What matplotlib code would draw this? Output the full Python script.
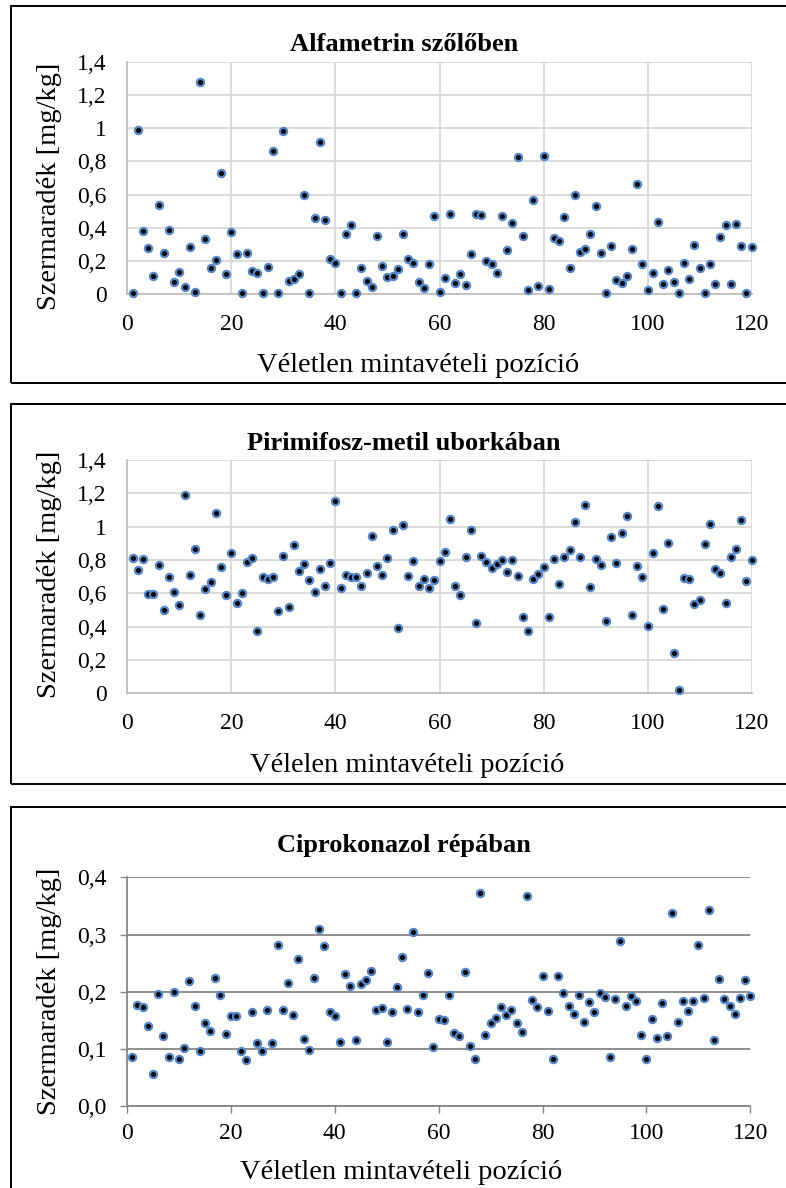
import numpy as np
import matplotlib.pyplot as plt
from matplotlib.patches import Rectangle

# ---------------------------
# ADATOK
# ---------------------------
pozicio = np.arange(1, 121)

alfametrin = [
    0.01, 0.99, 0.38, 0.28, 0.11, 0.54, 0.25, 0.39, 0.074, 0.134,
    0.042, 0.286, 0.014, 1.28, 0.334, 0.16, 0.206, 0.73, 0.122, 0.372,
    0.24, 0.01, 0.246, 0.138, 0.13, 0.01, 0.162, 0.864, 0.01, 0.98,
    0.08, 0.09, 0.124, 0.60, 0.01, 0.46, 0.914, 0.446, 0.21, 0.19,
    0.01, 0.36, 0.42, 0.01, 0.16, 0.08, 0.046, 0.35, 0.17, 0.104,
    0.11, 0.154, 0.362, 0.21, 0.188, 0.074, 0.036, 0.184, 0.472, 0.012,
    0.10, 0.486, 0.066, 0.12, 0.056, 0.242, 0.482, 0.476, 0.198, 0.184,
    0.13, 0.47, 0.266, 0.43, 0.828, 0.35, 0.028, 0.57, 0.05, 0.834,
    0.034, 0.34, 0.318, 0.466, 0.16, 0.596, 0.254, 0.272, 0.36, 0.53,
    0.246, 0.01, 0.29, 0.084, 0.066, 0.11, 0.27, 0.664, 0.18, 0.026,
    0.126, 0.438, 0.064, 0.144, 0.076, 0.01, 0.186, 0.092, 0.296, 0.158,
    0.01, 0.182, 0.062, 0.342, 0.418, 0.06, 0.426, 0.29, 0.01, 0.284,
]

pirimifosz = [
    0.814, 0.738, 0.804, 0.596, 0.598, 0.772, 0.498, 0.70, 0.606, 0.528,
    1.19, 0.712, 0.866, 0.468, 0.624, 0.666, 1.084, 0.76, 0.592, 0.844,
    0.54, 0.604, 0.79, 0.814, 0.374, 0.698, 0.686, 0.696, 0.494, 0.824,
    0.52, 0.89, 0.732, 0.778, 0.68, 0.61, 0.748, 0.644, 0.78, 1.156,
    0.63, 0.71, 0.698, 0.698, 0.644, 0.722, 0.942, 0.762, 0.712, 0.81,
    0.978, 0.394, 1.01, 0.706, 0.794, 0.642, 0.684, 0.634, 0.68, 0.792,
    0.85, 1.048, 0.644, 0.592, 0.818, 0.978, 0.424, 0.822, 0.79, 0.754,
    0.778, 0.798, 0.726, 0.798, 0.702, 0.458, 0.374, 0.684, 0.716, 0.76,
    0.46, 0.806, 0.654, 0.82, 0.858, 1.026, 0.82, 1.13, 0.636, 0.806,
    0.77, 0.432, 0.936, 0.784, 0.962, 1.064, 0.468, 0.764, 0.696, 0.404,
    0.84, 1.126, 0.504, 0.902, 0.24, 0.022, 0.69, 0.688, 0.536, 0.56,
    0.898, 1.014, 0.746, 0.72, 0.54, 0.82, 0.868, 1.038, 0.676, 0.80,
]

ciprokonazol = [
    0.086, 0.177, 0.174, 0.141, 0.056, 0.197, 0.123, 0.086, 0.199, 0.082,
    0.101, 0.219, 0.176, 0.097, 0.145, 0.132, 0.224, 0.194, 0.126, 0.158,
    0.158, 0.097, 0.081, 0.165, 0.110, 0.097, 0.168, 0.111, 0.282, 0.168,
    0.215, 0.159, 0.257, 0.117, 0.098, 0.224, 0.310, 0.280, 0.165, 0.158,
    0.113, 0.231, 0.210, 0.115, 0.213, 0.221, 0.237, 0.168, 0.172, 0.112,
    0.165, 0.209, 0.260, 0.170, 0.305, 0.165, 0.194, 0.232, 0.103, 0.152,
    0.150, 0.194, 0.128, 0.122, 0.235, 0.106, 0.083, 0.372, 0.124, 0.146,
    0.154, 0.173, 0.160, 0.169, 0.146, 0.130, 0.368, 0.185, 0.173, 0.227,
    0.167, 0.083, 0.227, 0.198, 0.175, 0.162, 0.195, 0.148, 0.183, 0.165,
    0.198, 0.191, 0.086, 0.187, 0.288, 0.176, 0.192, 0.184, 0.124, 0.082,
    0.153, 0.119, 0.180, 0.122, 0.338, 0.148, 0.184, 0.167, 0.184, 0.281,
    0.190, 0.343, 0.116, 0.223, 0.188, 0.176, 0.161, 0.190, 0.220, 0.193,
]

x_ticks = [0, 20, 40, 60, 80, 100, 120]
y_ticks_nagy = [0, 0.2, 0.4, 0.6, 0.8, 1.0, 1.2, 1.4]
y_labels_nagy = ["0", "0,2", "0,4", "0,6", "0,8", "1", "1,2", "1,4"]
y_ticks_kicsi = [0, 0.1, 0.2, 0.3, 0.4]
y_labels_kicsi = ["0,0", "0,1", "0,2", "0,3", "0,4"]

cimek = ["Alfametrin szőlőben", "Pirimifosz-metil uborkában", "Ciprokonazol répában"]
x_cimkek = ["Véletlen mintavételi pozíció", "Vélelen mintavételi pozíció",
            "Véletlen mintavételi pozíció"]
y_cimke = "Szermaradék [mg/kg]"

# ---------------------------
# ÁBRA
# ---------------------------
plt.rcParams['font.family'] = ['Liberation Serif', 'DejaVu Serif']

W, H = 786, 1188
fig = plt.figure(figsize=(W / 100, H / 100), dpi=100)


def pixel_ax(left, top, right, bottom):
    return fig.add_axes([left / W, 1 - bottom / H, (right - left) / W, (bottom - top) / H])


def fx(x):
    return x / W


def fy(y):
    return 1 - y / H


# panel: (adat, tengely-doboz, keret teteje, keret alja, cím alapvonal, xcímke x, xcímke alapvonal, ycímke közép)
panelek = [
    (alfametrin, (127.3, 61.7, 751.7, 294.3), 5.7, 382.7, 50.7, 418, 371.7, 186),
    (pirimifosz, (127.3, 460.0, 751.7, 693.3), 404.3, 784.0, 450.0, 407, 771.7, 574),
    (ciprokonazol, (127.0, 877.3, 750.3, 1106.3), 806.7, 1200.0, 851.7, 401, 1179.0, 991),
]

for i, (adat, box, k_top, k_bot, cim_y, xl_x, xl_y, yl_y) in enumerate(panelek):
    ax = pixel_ax(*box)
    ax.set_xlim(0, 120)
    ax.set_xticks(x_ticks)

    if i < 2:
        ax.set_ylim(0, 1.4)
        ax.set_yticks(y_ticks_nagy)
        ax.set_yticklabels(y_labels_nagy)
        ax.grid(True, color="#d9d9d9", linewidth=1.3)
        for s in ["top", "right"]:
            ax.spines[s].set_visible(False)
        for s in ["left", "bottom"]:
            ax.spines[s].set_color("#bfbfbf")
            ax.spines[s].set_linewidth(1.3)
        ax.tick_params(length=0, labelsize=17, pad=14.5)
        ax.tick_params(axis="y", pad=15)
    else:
        ax.set_ylim(0, 0.4)
        ax.set_yticks(y_ticks_kicsi)
        ax.set_yticklabels(y_labels_kicsi)
        ax.grid(True, axis="y", color="#868686", linewidth=1.3)
        for s in ["top", "right"]:
            ax.spines[s].set_visible(False)
        for s in ["left", "bottom"]:
            ax.spines[s].set_color("#868686")
            ax.spines[s].set_linewidth(1.3)
        ax.tick_params(length=5, width=1, color="#868686", direction="out",
                       labelsize=17, pad=7)
        ax.tick_params(axis="y", pad=10)

    ax.set_axisbelow(True)
    ax.scatter(pozicio, adat, s=27, color="black", edgecolors="#5585c4",
               linewidths=1.6, zorder=3, clip_on=False)

    # címek, tengelyfeliratok
    fig.text(fx(404), fy(cim_y), cimek[i], ha="center", va="baseline",
             fontsize=19, fontweight="bold")
    fig.text(fx(xl_x), fy(xl_y), x_cimkek[i], ha="center", va="baseline", fontsize=20.5)
    fig.text(fx(50), fy(yl_y), y_cimke, ha="center", va="center",
             rotation=90, fontsize=20.5)

    # fekete keret a diagram körül
    fig.patches.append(Rectangle((fx(11), fy(k_bot)), fx(800) - fx(11), fy(k_top) - fy(k_bot),
                                 transform=fig.transFigure, fill=False,
                                 edgecolor="black", linewidth=1.4))

plt.savefig("out.png", dpi=100)
